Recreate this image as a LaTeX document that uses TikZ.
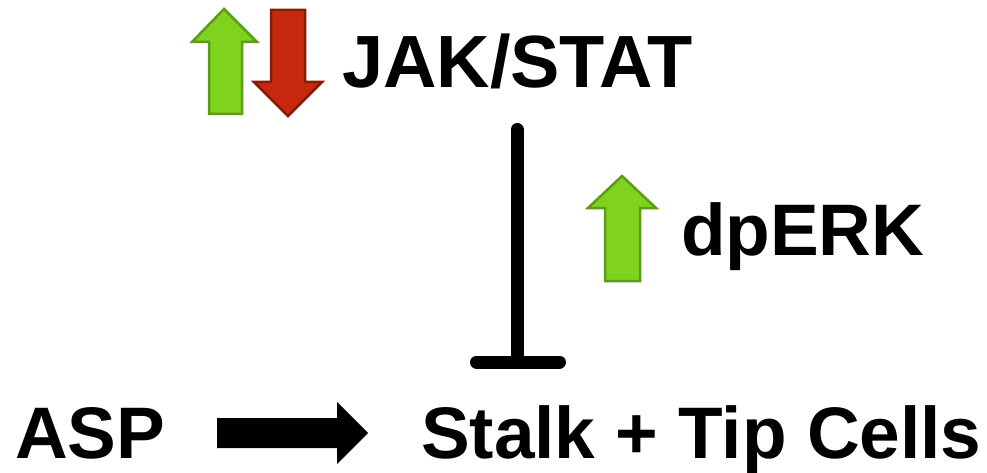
\documentclass[tikz,border=0pt]{standalone}
\usepackage{fontspec}
\setmainfont{Liberation Sans}
\begin{document}
\begin{tikzpicture}[x=1pt,y=-1pt,
  lbl/.style={inner sep=0pt,outer sep=0pt,anchor=base west,font=\fontsize{73}{80}\selectfont\bfseries},
  uparrowG/.style={fill=upgreen,draw=upgreenD,line width=2.5pt,line join=miter},
  downarrowR/.style={fill=downred,draw=downredD,line width=2.5pt,line join=miter},
  inhib/.style={line width=13pt,line cap=round}]
\definecolor{upgreen}{HTML}{7FD21E}
\definecolor{upgreenD}{HTML}{5C9C16}
\definecolor{downred}{HTML}{C8280E}
\definecolor{downredD}{HTML}{8A1A08}
\useasboundingbox (0,0) rectangle (987,473);
% texts
\node[lbl,font=\fontsize{74}{80}\selectfont\bfseries] (jak) at (342,88) {JAK/STAT};
\node[lbl] (erk) at (681,255) {dpERK};
\node[lbl] (asp) at (15,458) {ASP};
\node[lbl] (cells) at (421,458) {Stalk + Tip Cells};
% block arrows
\draw[uparrowG] (224,9) -- (257,42) -- (242,42) -- (242,114) -- (209,114) -- (209,42) -- (192,42) -- cycle;
\draw[downarrowR] (271,10) -- (305,10) -- (305,82) -- (322,82) -- (288,116) -- (254,82) -- (271,82) -- cycle;
\draw[uparrowG] (622,176) -- (656,208) -- (640,208) -- (640,281) -- (605,281) -- (605,208) -- (588,208) -- cycle;
\fill[black] (217,418) -- (337,418) -- (337,402) -- (368,433) -- (337,464) -- (337,448) -- (217,448) -- cycle;
% inhibition
\coordinate (inhTop) at (517,129.5);
\coordinate (inhEnd) at (517,362);
\coordinate (barL) at (476.5,362);
\coordinate (barR) at (559.5,362);
\draw[inhib] (inhTop) -- (inhEnd);
\draw[inhib] (barL) -- (barR);
\end{tikzpicture}
\end{document}
